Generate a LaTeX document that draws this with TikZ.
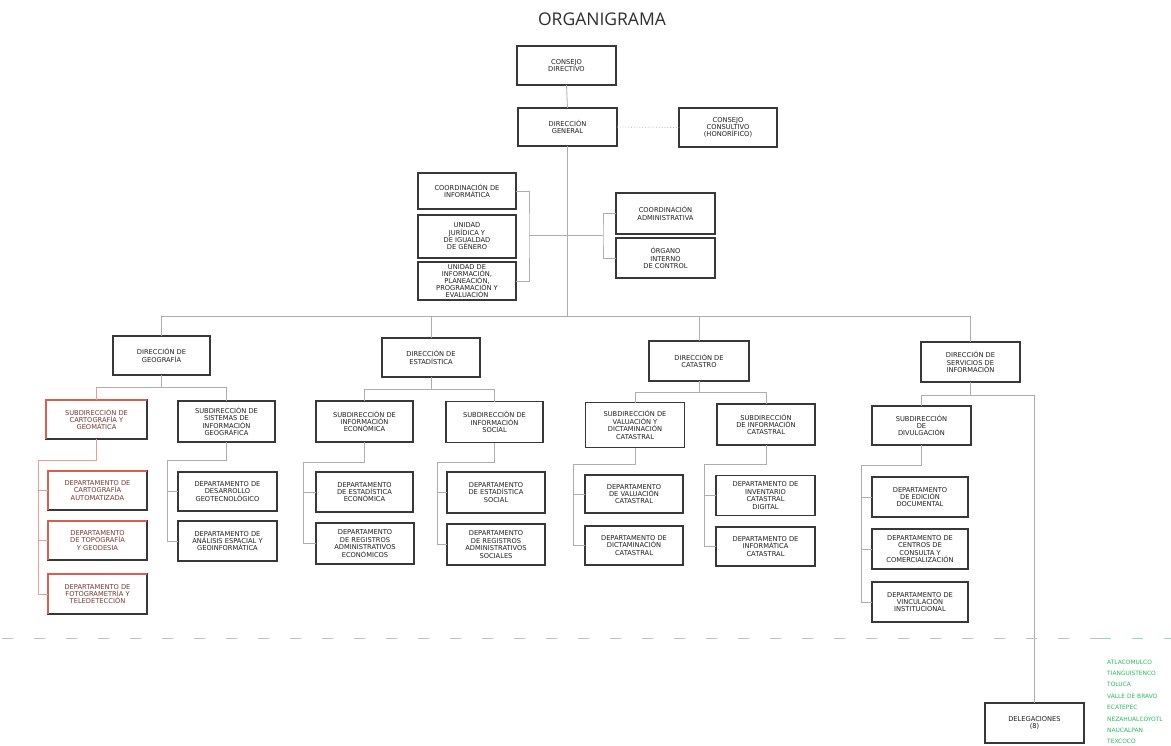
\documentclass[tikz,border=0pt]{standalone}
\usepackage{fontspec}
\setmainfont{DejaVu Sans}
\newfontfamily\titlefont{Open Sans}
\newfontfamily\boxfamily{DejaVu Sans}
\definecolor{redline}{RGB}{215,95,80}
\definecolor{redtext}{RGB}{120,55,50}
\definecolor{greentext}{RGB}{40,185,95}
\newcommand\bxfont{\boxfamily\fontsize{6.7}{7.4}\selectfont}
\tikzset{
  box/.style={draw=black!78, line width=1.3pt, fill=white, align=center,
    inner sep=0pt, outer sep=0pt, font=\bxfont, text=black!88},
  conn/.style={draw=black!32, line width=0.8pt},
  redconn/.style={draw=redline!60, line width=0.8pt},
  redside/.style={draw=redline, line width=1.3pt},
  dots/.style={draw=black!30, line width=0.8pt, dotted},
  sep/.style={draw=black!25, line width=0.8pt, dash pattern=on 11pt off 21pt},
  greensep/.style={draw=greentext!50, line width=0.8pt, dash pattern=on 11pt off 21pt},
  listtext/.style={font=\boxfamily\fontsize{5.9}{6.5}\selectfont, text=greentext, anchor=west, inner sep=0pt}
}
\newcommand\bx[6]{\node[box, minimum width=#4, minimum height=#5] (#1) at (#2,#3) {#6};}
\begin{document}
\begin{tikzpicture}[x=1pt, y=-1pt]
\useasboundingbox (0,0) rectangle (1171,746);
\fill[white] (0,0) rectangle (1171,746);
% title
\node[font=\titlefont\fontsize{17.5}{20}\selectfont, text=black!82, inner sep=0pt] (title) at (602,19) {ORGANIGRAMA};
% top level
\bx{cd}{566.5}{65.5}{99}{39}{CONSEJO\\DIRECTIVO}
\bx{dg}{567.5}{127}{99}{38}{DIRECCIÓN\\GENERAL}
\bx{cc}{728}{127.5}{98}{39}{CONSEJO\\CONSULTIVO\\(HONORÍFICO)}
% staff units
\bx{ci}{467}{191}{98}{36}{COORDINACIÓN DE\\INFORMÁTICA}
\bx{uj}{467}{236.5}{98}{43}{UNIDAD\\JURÍDICA Y\\DE IGUALDAD\\DE GÉNERO}
\node[box, minimum width=98, minimum height=38, font=\boxfamily\fontsize{6.7}{7}\selectfont] (ui) at (467,281) {UNIDAD DE\\INFORMACIÓN,\\PLANEACIÓN,\\PROGRAMACIÓN Y\\EVALUACIÓN};
\bx{ca}{665.5}{213.5}{99}{41}{COORDINACIÓN\\ADMINISTRATIVA}
\bx{oic}{665.5}{258}{99}{40}{ÓRGANO\\INTERNO\\DE CONTROL}
% directions
\bx{geo}{161.5}{355.5}{97}{39}{DIRECCIÓN DE\\GEOGRAFÍA}
\bx{est}{431}{357.5}{98}{39}{DIRECCIÓN DE\\ESTADÍSTICA}
\bx{cat}{699}{361}{100}{40}{DIRECCIÓN DE\\CATASTRO}
\bx{ser}{970.5}{362}{99}{40}{DIRECCIÓN DE\\SERVICIOS DE\\INFORMACIÓN}
% subdirections
\node[box, minimum width=101, minimum height=39, text=redtext] (sc) at (96.5,419.5) {SUBDIRECCIÓN DE\\CARTOGRAFÍA Y\\GEOMÁTICA};
\bx{ss}{226.5}{421.5}{97}{41}{SUBDIRECCIÓN DE\\SISTEMAS DE\\INFORMACIÓN\\GEOGRÁFICA}
\bx{se}{364.5}{421.5}{97}{41}{SUBDIRECCIÓN DE\\INFORMACIÓN\\ECONÓMICA}
\bx{sso}{494.5}{422}{97}{41}{SUBDIRECCIÓN DE\\INFORMACIÓN\\SOCIAL}
\bx{sv}{635}{425}{99}{45}{SUBDIRECCIÓN DE\\VALUACIÓN Y\\DICTAMINACIÓN\\CATASTRAL}
\bx{sic}{766}{424.5}{98}{41}{SUBDIRECCIÓN\\DE INFORMACIÓN\\CATASTRAL}
\bx{sdv}{921.5}{425.5}{99}{39}{SUBDIRECCIÓN\\DE\\DIVULGACIÓN}
% departments
\node[box, minimum width=99, minimum height=39, text=redtext] (dca) at (97.5,490.5) {DEPARTAMENTO DE\\CARTOGRAFÍA\\AUTOMATIZADA};
\node[box, minimum width=99, minimum height=39, text=redtext] (dtg) at (97.5,540.5) {DEPARTAMENTO\\DE TOPOGRAFÍA\\Y GEODESIA};
\node[box, minimum width=99, minimum height=40, text=redtext] (dfg) at (97.5,594) {DEPARTAMENTO DE\\FOTOGRAMETRÍA Y\\TELEDETECCIÓN};
\bx{dde}{227.5}{491.5}{99}{39}{DEPARTAMENTO DE\\DESARROLLO\\GEOTECNOLÓGICO}
\bx{dae}{227.5}{541}{99}{40}{DEPARTAMENTO DE\\ANÁLISIS ESPACIAL Y\\GEOINFORMÁTICA}
\bx{dee}{364.5}{492}{97}{40}{DEPARTAMENTO\\DE ESTADÍSTICA\\ECONÓMICA}
\bx{dre}{365}{543.5}{98}{41}{DEPARTAMENTO\\DE REGISTROS\\ADMINISTRATIVOS\\ECONÓMICOS}
\bx{des}{496}{492.5}{98}{41}{DEPARTAMENTO\\DE ESTADÍSTICA\\SOCIAL}
\bx{drs}{496}{544.5}{98}{41}{DEPARTAMENTO\\DE REGISTROS\\ADMINISTRATIVOS\\SOCIALES}
\bx{dvc}{634}{494}{98}{38}{DEPARTAMENTO\\DE VALUACIÓN\\CATASTRAL}
\bx{ddc}{634}{545.5}{98}{39}{DEPARTAMENTO DE\\DICTAMINACIÓN\\CATASTRAL}
\bx{dic}{765.5}{495.5}{99}{40}{DEPARTAMENTO DE\\INVENTARIO\\CATASTRAL\\DIGITAL}
\bx{dinf}{765.5}{546.5}{99}{39}{DEPARTAMENTO DE\\INFORMÁTICA\\CATASTRAL}
\bx{ded}{920}{497}{96}{40}{DEPARTAMENTO\\DE EDICIÓN\\DOCUMENTAL}
\bx{dcc}{920}{549}{96}{40}{DEPARTAMENTO DE\\CENTROS DE\\CONSULTA Y\\COMERCIALIZACIÓN}
\bx{dvi}{920}{602}{96}{40}{DEPARTAMENTO DE\\VINCULACIÓN\\INSTITUCIONAL}
\bx{del}{1034.5}{723}{99}{40}{DELEGACIONES\\(8)}
% red edges
\foreach \n in {sc,dca,dtg,dfg}{
  \draw[redside] (\n.south west) -- (\n.north west) -- (\n.north east);
}
% bus coordinates
\coordinate (mainbus) at (0,316);
\coordinate (lb) at (529,235);
\coordinate (rb) at (603,235);
\coordinate (geobus) at (0,387);
\coordinate (estbus) at (0,389);
\coordinate (catbus) at (0,392);
\coordinate (serbus) at (0,395);
% connectors
\draw[conn] (cd.south) -- (dg.north);
\draw[dots] (dg.east) -- (cc.west);
\draw[conn] (dg.south) -- (dg.south |- mainbus);
\draw[conn] (ci.east) -| (lb) |- (ui.east);
\draw[conn] (lb) -- (rb);
\draw[conn] (ca.west) -| (rb) |- (oic.west);
\draw[conn] (geo.north |- mainbus) -- (ser.north |- mainbus);
\foreach \n in {geo,est,cat,ser}{ \draw[conn] (\n.north |- mainbus) -- (\n.north); }
% geografia
\draw[conn] (geo.south) -- (geo.south |- geobus);
\draw[conn] (sc.north |- geobus) -- (ss.north |- geobus);
\draw[redconn] (sc.north |- geobus) -- (sc.north);
\draw[conn] (ss.north |- geobus) -- (ss.north);
% estadistica
\draw[conn] (est.south) -- (est.south |- estbus);
\draw[conn] (se.north |- estbus) -- (sso.north |- estbus);
\draw[conn] (se.north |- estbus) -- (se.north);
\draw[conn] (sso.north |- estbus) -- (sso.north);
% catastro
\draw[conn] (cat.south) -- (cat.south |- catbus);
\draw[conn] (sv.north |- catbus) -- (sic.north |- catbus);
\draw[conn] (sv.north |- catbus) -- (sv.north);
\draw[conn] (sic.north |- catbus) -- (sic.north);
% servicios
\draw[conn] (ser.south) -- (ser.south |- serbus);
\draw[conn] (sdv.north |- serbus) -- (del.north |- serbus);
\draw[conn] (sdv.north |- serbus) -- (sdv.north);
\draw[conn] (del.north |- serbus) -- (del.north);
% department branches
\coordinate (jsc) at (38,460);
\draw[redconn] (sc.south) |- (jsc) |- (dfg.west);
\draw[redconn] (jsc |- dca.west) -- (dca.west);
\draw[redconn] (jsc |- dtg.west) -- (dtg.west);
\coordinate (jss) at (167,460);
\draw[conn] (ss.south) |- (jss) |- (dae.west);
\draw[conn] (jss |- dde.west) -- (dde.west);
\coordinate (jse) at (303,462);
\draw[conn] (se.south) |- (jse) |- (dre.west);
\draw[conn] (jse |- dee.west) -- (dee.west);
\coordinate (jso) at (437,462);
\draw[conn] (sso.south) |- (jso) |- (drs.west);
\draw[conn] (jso |- des.west) -- (des.west);
\coordinate (jsv) at (573,464);
\draw[conn] (sv.south) |- (jsv) |- (ddc.west);
\draw[conn] (jsv |- dvc.west) -- (dvc.west);
\coordinate (jsi) at (704,464);
\draw[conn] (sic.south) |- (jsi) |- (dinf.west);
\draw[conn] (jsi |- dic.west) -- (dic.west);
\coordinate (jsd) at (861,465);
\draw[conn] (sdv.south) |- (jsd) |- (dvi.west);
\draw[conn] (jsd |- ded.west) -- (ded.west);
\draw[conn] (jsd |- dcc.west) -- (dcc.west);
% separator
\coordinate (sepL) at (2,638);
\coordinate (sepM) at (1100,638);
\coordinate (sepR) at (1171,638);
\draw[sep] (sepL) -- (sepM);
\draw[greensep] (sepM) -- (sepR);
% delegaciones list
\node[listtext] (l1) at (1107,662) {ATLACOMULCO};
\node[listtext] (l2) at (1107,673.4) {TIANGUISTENCO};
\node[listtext] (l3) at (1107,684.8) {TOLUCA};
\node[listtext] (l4) at (1107,696.2) {VALLE DE BRAVO};
\node[listtext] (l5) at (1107,707.6) {ECATEPEC};
\node[listtext] (l6) at (1107,719) {NEZAHUALCÓYOTL};
\node[listtext] (l7) at (1107,730.4) {NAUCALPAN};
\node[listtext] (l8) at (1107,741.8) {TEXCOCO};
\end{tikzpicture}
\end{document}
